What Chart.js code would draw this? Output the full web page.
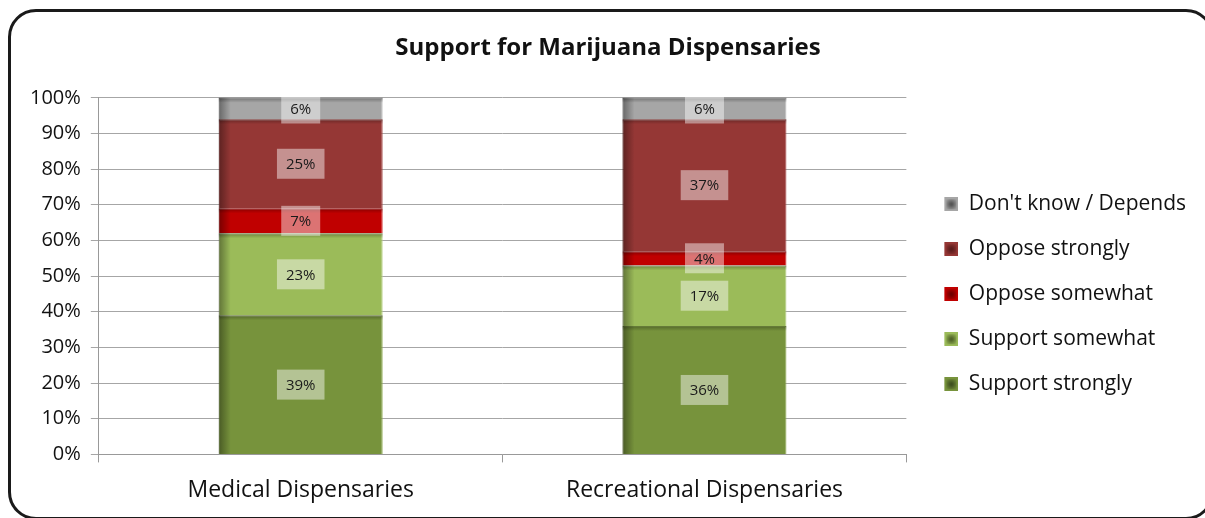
<!DOCTYPE html>
<html>
<head>
<meta charset="utf-8">
<script src="https://cdn.jsdelivr.net/npm/chart.js@4/dist/chart.umd.min.js"></script>
<style>
  html, body { margin: 0; padding: 0; background: #fff; }
  #wrap { position: relative; width: 1205px; height: 518px; overflow: hidden; }
  #frame {
    position: absolute; left: 8px; top: 9px; width: 1206px; height: 511px;
    border: 3px solid #1a1a1a; border-radius: 28px; box-sizing: border-box;
  }
  canvas { position: absolute; left: 0; top: 0; }
</style>
</head>
<body>
<div id="wrap">
  <div id="frame"></div>
  <canvas id="myChart" width="1205" height="518"></canvas>
</div>
<script>
// categories and series (percent)
const categories = ['Medical Dispensaries', 'Recreational Dispensaries'];
const supportStrongly = [39, 36];
const supportSomewhat = [23, 17];
const opposeSomewhat = [7, 4];
const opposeStrongly = [25, 37];
const dontKnow = [6, 6];
const yTicks = [0, 10, 20, 30, 40, 50, 60, 70, 80, 90, 100];

const FONT = '"Open Sans", "Noto Sans", sans-serif';

// legend swatch: empty space on the left, square with a darker centre on the right
function swatch(outer, inner) {
  const c = document.createElement('canvas');
  c.width = 28;
  c.height = 14;
  const g = c.getContext('2d');
  g.fillStyle = outer;
  g.fillRect(14, 0, 14, 14);
  const grad = g.createRadialGradient(21, 7, 1, 21, 7, 7);
  grad.addColorStop(0, inner);
  grad.addColorStop(1, outer);
  g.fillStyle = grad;
  g.fillRect(16, 2, 10, 10);
  return c;
}

// labels drawn on each segment with a pale box behind
const segmentLabels = {
  id: 'segmentLabels',
  afterDatasetsDraw(chart) {
    const ctx = chart.ctx;
    ctx.save();
    // shading on left and top edge of each segment
    chart.data.datasets.forEach((ds, i) => {
      const meta = chart.getDatasetMeta(i);
      meta.data.forEach((bar) => {
        const left = bar.x - bar.width / 2;
        const top = Math.min(bar.y, bar.base);
        const h = Math.abs(bar.base - bar.y);
        let g = ctx.createLinearGradient(left, 0, left + 12, 0);
        g.addColorStop(0, 'rgba(0,0,0,0.38)');
        g.addColorStop(1, 'rgba(0,0,0,0)');
        ctx.fillStyle = g;
        ctx.fillRect(left, top, 12, h);
        let g2 = ctx.createLinearGradient(0, top, 0, top + 5);
        g2.addColorStop(0, 'rgba(0,0,0,0.3)');
        g2.addColorStop(1, 'rgba(0,0,0,0)');
        ctx.fillStyle = g2;
        ctx.fillRect(left, top, bar.width, 5);
      });
    });
    ctx.font = '15px ' + FONT;
    ctx.textAlign = 'center';
    ctx.textBaseline = 'middle';
    chart.data.datasets.forEach((ds, i) => {
      const meta = chart.getDatasetMeta(i);
      meta.data.forEach((bar, j) => {
        const txt = ds.data[j] + '%';
        const cy = (bar.y + bar.base) / 2;
        const w = ctx.measureText(txt).width + 18;
        const h = 30;
        ctx.fillStyle = 'rgba(255,255,255,0.45)';
        ctx.fillRect(bar.x - w / 2, cy - h / 2, w, h);
        ctx.fillStyle = '#1a1a1a';
        ctx.fillText(txt, bar.x, cy + 1);
      });
    });
    ctx.restore();
  }
};

const ctx = document.getElementById('myChart');
new Chart(ctx, {
  type: 'bar',
  data: {
    labels: categories,
    datasets: [
      { label: 'Support strongly', data: supportStrongly, backgroundColor: '#77933C', borderColor: '#8aa84c', borderWidth: 1, pointStyle: swatch('#77933C', '#3f5020') },
      { label: 'Support somewhat', data: supportSomewhat, backgroundColor: '#9BBB59', borderColor: '#b5cf80', borderWidth: 1, pointStyle: swatch('#9BBB59', '#4f6228') },
      { label: 'Oppose somewhat', data: opposeSomewhat, backgroundColor: '#C00000', borderColor: '#d02020', borderWidth: 1, pointStyle: swatch('#C00000', '#700000') },
      { label: 'Oppose strongly', data: opposeStrongly, backgroundColor: '#953735', borderColor: '#a54745', borderWidth: 1, pointStyle: swatch('#953735', '#5a1c1c') },
      { label: "Don't know / Depends", data: dontKnow, backgroundColor: '#A6A6A6', borderColor: '#bdbdbd', borderWidth: 1, pointStyle: swatch('#A6A6A6', '#555555') }
    ]
  },
  options: {
    responsive: false,
    animation: false,
    devicePixelRatio: 1,
    layout: { padding: { left: 20, right: 9, top: 0, bottom: 0 } },
    datasets: { bar: { categoryPercentage: 1.0, barPercentage: 0.406 } },
    plugins: {
      title: {
        display: true,
        text: 'Support for Marijuana Dispensaries',
        color: '#111',
        font: { family: FONT, size: 24, weight: 'bold' },
        padding: { top: 34, bottom: 35 }
      },
      legend: {
        position: 'right',
        reverse: true,
        title: { display: true, text: ' ', font: { size: 12 }, padding: { top: 0, bottom: 56 } },
        labels: {
          color: '#111',
          font: { family: FONT, size: 21 },
          usePointStyle: true,
          pointStyleWidth: 28,
          boxHeight: 14,
          padding: 24
        }
      },
      tooltip: { enabled: false }
    },
    scales: {
      x: {
        stacked: true,
        grid: { offset: true, drawOnChartArea: false, color: '#999', tickLength: 8 },
        border: { color: '#999' },
        ticks: { color: '#111', font: { family: FONT, size: 23 }, padding: 14 }
      },
      y: {
        stacked: true,
        min: 0,
        max: 100,
        afterBuildTicks(axis) { axis.ticks = yTicks.map(v => ({ value: v })); },
        grid: { color: '#a6a6a6', tickLength: 8 },
        border: { color: '#999' },
        ticks: {
          color: '#111',
          font: { family: FONT, size: 20 },
          padding: 10,
          callback: (v) => v + '%'
        }
      }
    }
  },
  plugins: [segmentLabels]
});
</script>
</body>
</html>
